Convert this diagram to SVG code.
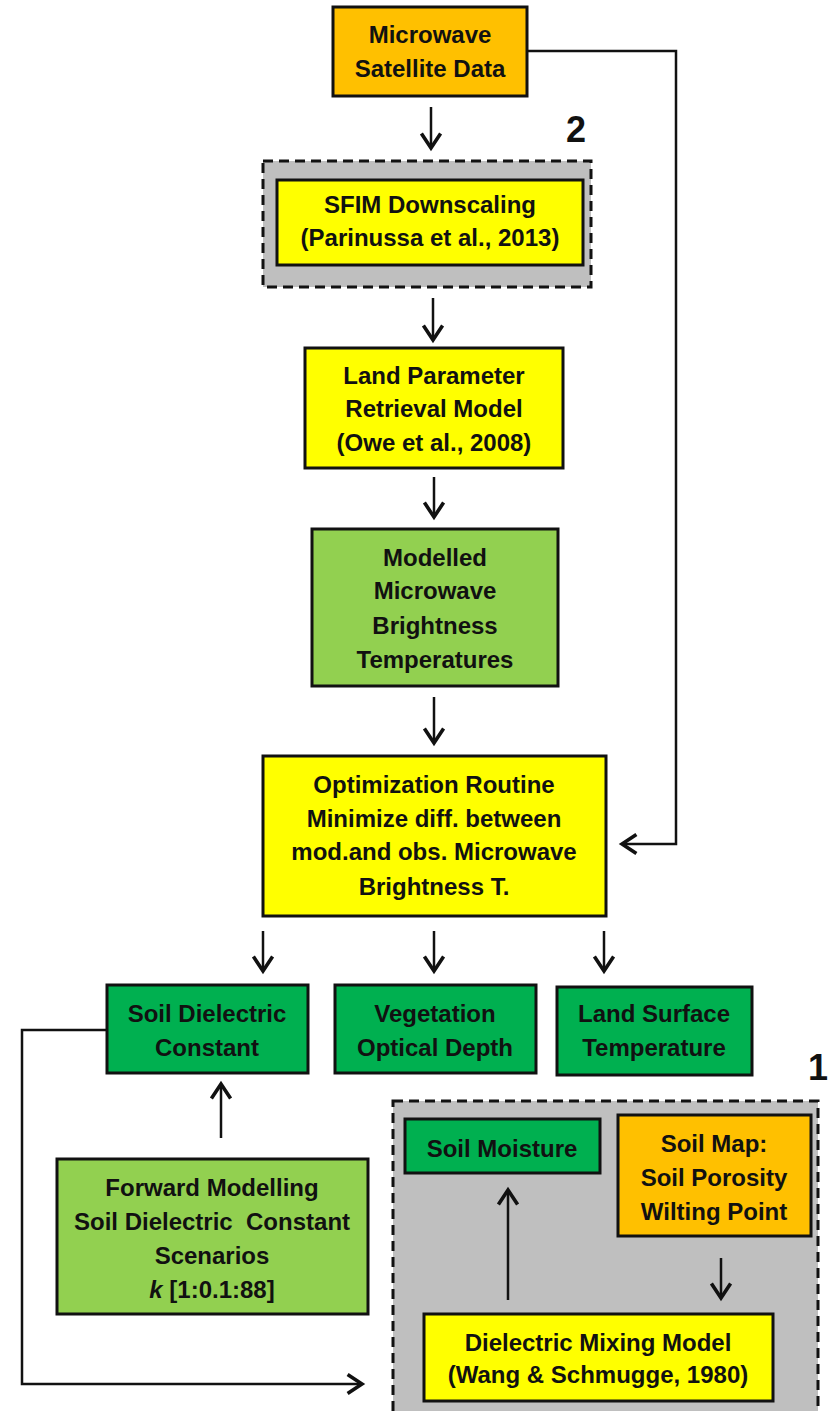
<svg xmlns="http://www.w3.org/2000/svg" width="833" height="1411" viewBox="0 0 833 1411">
<style>
text{font-family:"Liberation Sans",Arial,sans-serif;font-weight:bold;font-size:24px;fill:#111;text-anchor:middle}
.box{stroke:#111;stroke-width:3}
.orange{fill:#FFC000}
.yellow{fill:#FFFF00}
.lgreen{fill:#92D050}
.dgreen{fill:#00B050}
.group{fill:#BFBFBF;stroke:#111;stroke-width:3;stroke-dasharray:10 6}
.conn{fill:none;stroke:#111;stroke-width:2.5;marker-end:url(#arr)}
.big{font-size:36px}
</style>
<defs>
<marker id="arr" markerUnits="userSpaceOnUse" markerWidth="24" markerHeight="24" viewBox="-14 -10 18 20" refX="0" refY="0" orient="auto">
<path d="M-12,-8 L0,0 L-12,8" fill="none" stroke="#111" stroke-width="3"/>
</marker>
</defs>
<g id="group2">
<rect class="group" x="263" y="161" width="328" height="126"/>
<text class="big" x="576" y="142">2</text>
</g>
<g id="group1">
<rect class="group" x="393" y="1101" width="425" height="330"/>
<text class="big" x="818" y="1080">1</text>
</g>
<g id="connectors">
<path class="conn" d="M431,107 V148"/>
<path class="conn" d="M433,298 V340"/>
<path class="conn" d="M434,477 V517"/>
<path class="conn" d="M434,697 V743"/>
<path class="conn" d="M527,51 H676 V844 H622"/>
<path class="conn" d="M263,931 V971"/>
<path class="conn" d="M434,931 V971"/>
<path class="conn" d="M604,931 V971"/>
<path class="conn" d="M221,1138 V1084"/>
<path class="conn" d="M107,1030 H22 V1384 H362"/>
<path class="conn" d="M508,1300 V1190"/>
<path class="conn" d="M721,1258 V1298"/>
</g>
<g id="microwave">
<rect class="box orange" x="333" y="7" width="194" height="89"/>
<text x="430" y="43">Microwave</text>
<text x="430" y="77">Satellite Data</text>
</g>
<g id="sfim">
<rect class="box yellow" x="277" y="180" width="306" height="85"/>
<text x="430" y="213">SFIM Downscaling</text>
<text x="430" y="246">(Parinussa et al., 2013)</text>
</g>
<g id="lprm">
<rect class="box yellow" x="305" y="348" width="258" height="120"/>
<text x="434" y="384">Land Parameter</text>
<text x="434" y="417">Retrieval Model</text>
<text x="434" y="451">(Owe et al., 2008)</text>
</g>
<g id="modelled">
<rect class="box lgreen" x="312" y="529" width="246" height="157"/>
<text x="435" y="566">Modelled</text>
<text x="435" y="599">Microwave</text>
<text x="435" y="634">Brightness</text>
<text x="435" y="668">Temperatures</text>
</g>
<g id="optimization">
<rect class="box yellow" x="263" y="756" width="343" height="160"/>
<text x="434" y="793">Optimization Routine</text>
<text x="434" y="827">Minimize diff. between</text>
<text x="434" y="860">mod.and obs. Microwave</text>
<text x="434" y="895">Brightness T.</text>
</g>
<g id="soildielectric">
<rect class="box dgreen" x="107" y="985" width="201" height="88"/>
<text x="207" y="1022">Soil Dielectric</text>
<text x="207" y="1056">Constant</text>
</g>
<g id="vegetation">
<rect class="box dgreen" x="335" y="985" width="201" height="88"/>
<text x="435" y="1022">Vegetation</text>
<text x="435" y="1056">Optical Depth</text>
</g>
<g id="lst">
<rect class="box dgreen" x="557" y="987" width="195" height="88"/>
<text x="654" y="1022">Land Surface</text>
<text x="654" y="1056">Temperature</text>
</g>
<g id="forward">
<rect class="box lgreen" x="57" y="1159" width="311" height="155"/>
<text x="212" y="1196">Forward Modelling</text>
<text x="212" y="1230" xml:space="preserve">Soil Dielectric  Constant</text>
<text x="212" y="1264">Scenarios</text>
<text x="212" y="1298"><tspan font-style="italic">k</tspan> [1:0.1:88]</text>
</g>
<g id="soilmoisture">
<rect class="box dgreen" x="405" y="1119" width="195" height="54"/>
<text x="502" y="1157">Soil Moisture</text>
</g>
<g id="soilmap">
<rect class="box orange" x="618" y="1115" width="193" height="121"/>
<text x="714" y="1152">Soil Map:</text>
<text x="714" y="1186">Soil Porosity</text>
<text x="714" y="1220">Wilting Point</text>
</g>
<g id="mixing">
<rect class="box yellow" x="424" y="1314" width="349" height="87"/>
<text x="598" y="1351">Dielectric Mixing Model</text>
<text x="598" y="1383">(Wang &amp; Schmugge, 1980)</text>
</g>
</svg>
